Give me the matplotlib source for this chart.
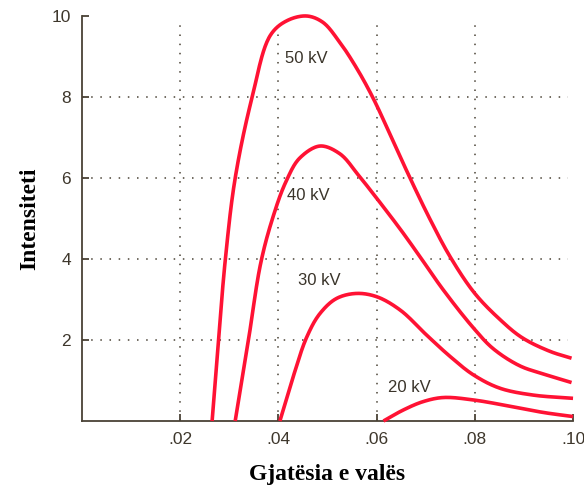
import matplotlib
matplotlib.use('Agg')
import matplotlib.pyplot as plt
import numpy as np

# Data (wavelength, intensity)
x_50kv = [0.0265, 0.0278, 0.0292, 0.0312, 0.0346, 0.0385, 0.0420, 0.0458, 0.0490,
          0.0525, 0.0559, 0.0593, 0.0634, 0.0665, 0.0708, 0.0750, 0.0800, 0.0850,
          0.0896, 0.0953, 0.0997]
y_50kv = [0.0, 2.0, 4.0, 6.0, 7.97, 9.55, 9.9, 10.0, 9.85,
          9.35, 8.72, 7.97, 6.9, 6.08, 5.0, 4.05, 3.15, 2.52,
          2.06, 1.72, 1.55]

x_40kv = [0.0312, 0.0339, 0.0364, 0.0388, 0.0415, 0.0444, 0.0485, 0.0525, 0.0563,
          0.0597, 0.0648, 0.0687, 0.0735, 0.0797, 0.0838, 0.0892, 0.0940, 0.0997]
y_40kv = [0.0, 2.0, 3.9, 5.0, 5.9, 6.5, 6.79, 6.6, 6.07,
          5.55, 4.74, 4.08, 3.25, 2.3, 1.78, 1.36, 1.16, 0.95]

x_30kv = [0.0403, 0.0430, 0.0458, 0.0485, 0.0519, 0.0559, 0.0600, 0.0648, 0.0702,
          0.0750, 0.0797, 0.0851, 0.0919, 0.1000]
y_30kv = [0.0, 1.09, 2.08, 2.66, 3.03, 3.15, 3.07, 2.74, 2.12,
          1.59, 1.14, 0.81, 0.64, 0.56]

x_20kv = [0.0614, 0.0654, 0.0695, 0.0736, 0.0797, 0.0878, 0.0940, 0.1000]
y_20kv = [0.0, 0.27, 0.48, 0.58, 0.52, 0.35, 0.21, 0.11]

curve_labels = ['50 kV', '40 kV', '30 kV', '20 kV']
label_pos = [(0.0413, 8.94), (0.0417, 5.58), (0.0440, 3.48), (0.0623, 0.83)]

xticks = [0.02, 0.04, 0.06, 0.08, 0.10]
xtick_labels = ['.02', '.04', '.06', '.08', '.10']
yticks = [2, 4, 6, 8, 10]

RED = '#ff1234'
AXC = '#4a4236'
TXT = '#3a342a'


def smooth(xs, ys, n=24):
    # centripetal Catmull-Rom through the points, done in axis-fraction units
    sx, sy = 1 / 0.10, 1 / 10.0
    P = np.column_stack([np.asarray(xs) * sx, np.asarray(ys) * sy])
    P = np.vstack([2 * P[0] - P[1], P, 2 * P[-1] - P[-2]])
    out = []
    for i in range(1, len(P) - 2):
        p0, p1, p2, p3 = P[i - 1], P[i], P[i + 1], P[i + 2]
        t0 = 0.0
        t1 = t0 + np.linalg.norm(p1 - p0) ** 0.5
        t2 = t1 + np.linalg.norm(p2 - p1) ** 0.5
        t3 = t2 + np.linalg.norm(p3 - p2) ** 0.5
        t = np.linspace(t1, t2, n, endpoint=False)[:, None]
        a1 = (t1 - t) / (t1 - t0) * p0 + (t - t0) / (t1 - t0) * p1
        a2 = (t2 - t) / (t2 - t1) * p1 + (t - t1) / (t2 - t1) * p2
        a3 = (t3 - t) / (t3 - t2) * p2 + (t - t2) / (t3 - t2) * p3
        b1 = (t2 - t) / (t2 - t0) * a1 + (t - t0) / (t2 - t0) * a2
        b2 = (t3 - t) / (t3 - t1) * a2 + (t - t1) / (t3 - t1) * a3
        out.append((t2 - t) / (t2 - t1) * b1 + (t - t1) / (t2 - t1) * b2)
    out.append(P[-2][None, :])
    C = np.vstack(out)
    return C[:, 0] / sx, C[:, 1] / sy


fig = plt.figure(figsize=(5.84, 4.90), dpi=100)
ax = fig.add_axes([0.1404, 0.1408, 0.8408, 0.8265])
ax.set_xlim(0, 0.10)
ax.set_ylim(0, 10)

for spine in ('top', 'right'):
    ax.spines[spine].set_visible(False)
for spine in ('left', 'bottom'):
    ax.spines[spine].set_color(AXC)
    ax.spines[spine].set_linewidth(1.3)

# dotted grid on interior ticks
for xv in xticks[:-1]:
    ax.axvline(xv, ymax=0.99, color='#4a4236', lw=1.1, ls=(0, (1, 5)), zorder=1)
for yv in yticks[:-1]:
    ax.axhline(yv, xmax=0.99, color='#4a4236', lw=1.1, ls=(0, (1, 5)), zorder=1)

for xs, ys in ((x_50kv, y_50kv), (x_40kv, y_40kv), (x_30kv, y_30kv), (x_20kv, y_20kv)):
    sx, sy = smooth(xs, ys)
    ax.plot(sx, sy, color=RED, lw=2.6, solid_capstyle='butt', zorder=3, clip_on=False)

for lab, (lx, ly) in zip(curve_labels, label_pos):
    ax.text(lx, ly, lab, ha='left', va='center', fontsize=12,
            fontfamily='Liberation Sans', color=TXT)

ax.set_xticks(xticks)
ax.set_xticklabels(xtick_labels)
ax.set_yticks(yticks)
ax.tick_params(direction='in', length=5, width=1.3, color=AXC, labelcolor='#3e372c',
               labelsize=12.5, pad=8)
for lbl in ax.get_xticklabels() + ax.get_yticklabels():
    lbl.set_fontfamily('Liberation Sans')

ax.set_xlabel('Gjatësia e valës', fontsize=17, fontweight='bold',
              fontfamily='Liberation Serif', labelpad=12)
ax.set_ylabel('Intensiteti', fontsize=17, fontweight='bold',
              fontfamily='Liberation Serif', labelpad=8)

fig.savefig('out.png', dpi=100, facecolor='white')
